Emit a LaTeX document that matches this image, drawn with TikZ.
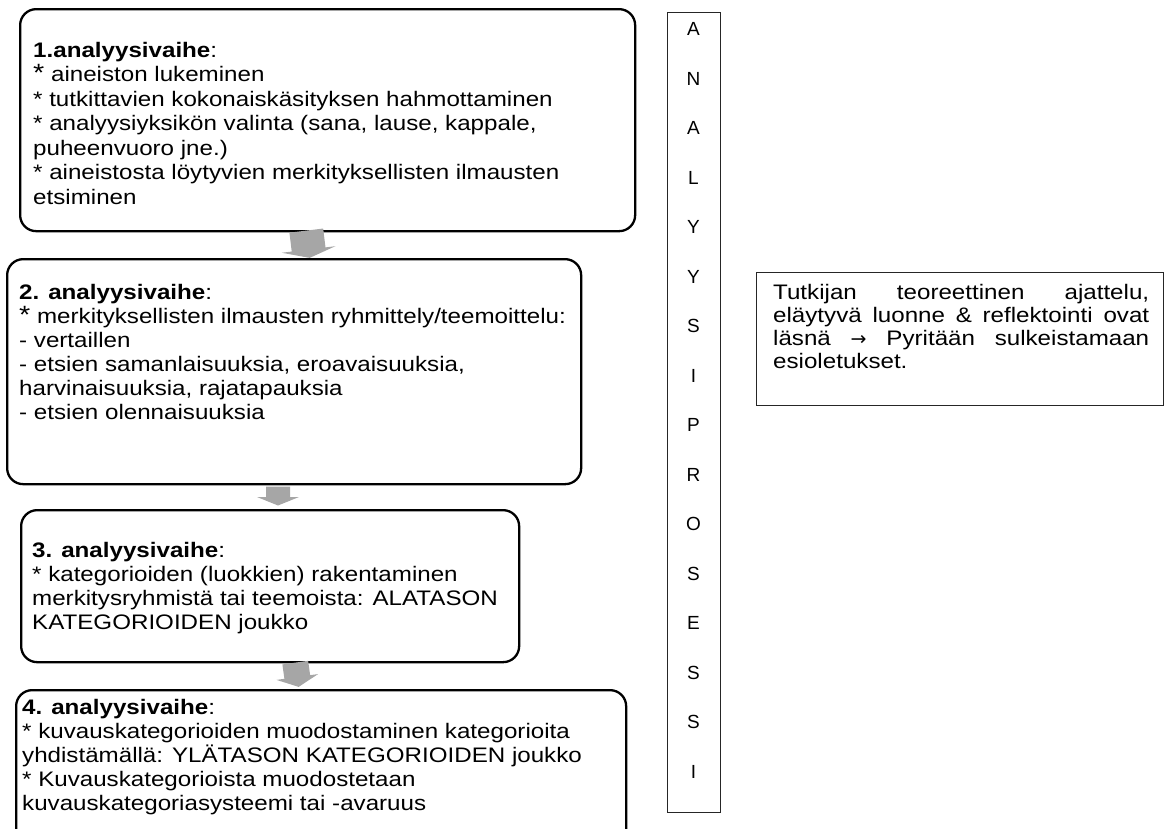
\documentclass[tikz,border=0pt]{standalone}
\usepackage{fontspec}
\setmainfont{Liberation Sans}[FakeStretch=1.15]
\newfontfamily\letterfont{Liberation Sans}
\newfontfamily\symfont{DejaVu Sans}
\definecolor{arrowgray}{HTML}{A6A6A6}
\definecolor{thinline}{HTML}{262626}
\begin{document}
\begin{tikzpicture}[x=1pt,y=-1pt,
  stage/.style={draw, line width=2.3pt, rounded corners=16pt, anchor=north west, inner sep=0pt},
  body/.style={anchor=base west, inner sep=0pt, align=left, font=\fontsize{21}{24}\selectfont},
  thinbox/.style={draw=thinline, line width=1pt, anchor=north west, inner sep=0pt},
  letter/.style={font=\letterfont\fontsize{19}{19}\selectfont, inner sep=0pt},
  garrow/.style={fill=arrowgray, draw=none}]
\useasboundingbox (0,0) rectangle (1165,828);
% stage boxes
\node[stage, minimum width=615pt, minimum height=222pt] (b1) at (19,8) {};
\node[stage, minimum width=574pt, minimum height=225pt] (b2) at (6,258) {};
\node[stage, minimum width=498pt, minimum height=152pt] (b3) at (20,509) {};
\node[stage, minimum width=610pt, minimum height=160pt] (b4) at (15,689) {};
% texts (anchored at the baseline of the last line)
\node[body, font=\fontsize{21}{24.5}\selectfont] (t1) at (33,204) {\textbf{1.analyysivaihe}:\\
{\fontsize{25}{24}\selectfont*} aineiston lukeminen\\
* tutkittavien kokonaiskäsityksen hahmottaminen\\
* analyysiyksikön valinta (sana, lause, kappale,\\
puheenvuoro jne.)\\
* aineistosta löytyvien merkityksellisten ilmausten\\
etsiminen};
\node[body] (t2) at (19,419) {\textbf{2. analyysivaihe}:\\
{\fontsize{25}{24}\selectfont*} merkityksellisten ilmausten ryhmittely/teemoittelu:\\
- vertaillen\\
- etsien samanlaisuuksia, eroavaisuuksia,\\
harvinaisuuksia, rajatapauksia\\
- etsien olennaisuuksia};
\node[body] (t3) at (32,629) {\textbf{3. analyysivaihe}:\\
* kategorioiden (luokkien) rakentaminen\\
merkitysryhmistä tai teemoista: ALATASON\\
KATEGORIOIDEN joukko};
\node[body] (t4) at (22,810) {\textbf{4. analyysivaihe}:\\
* kuvauskategorioiden muodostaminen kategorioita\\
yhdistämällä: YLÄTASON KATEGORIOIDEN joukko\\
* Kuvauskategorioista muodostetaan\\
kuvauskategoriasysteemi tai -avaruus};
% block arrows between the stages
\coordinate (a1) at (308,244.5);
\coordinate (a2) at (278,496);
\coordinate (a3) at (297,675);
\fill[garrow, shift={(a1)}, rotate=7]
  (-17,-14) -- (17,-14) -- (17,5) -- (27,5) -- (0,13.5) -- (-27,5) -- (-17,5) -- cycle;
\fill[garrow, shift={(a2)}]
  (-12,-9.5) -- (12,-9.5) -- (12,1) -- (21,1) -- (0,9.5) -- (-21,1) -- (-12,1) -- cycle;
\fill[garrow, shift={(a3)}, rotate=8]
  (-13,-12.5) -- (13,-12.5) -- (13,2) -- (21,2) -- (0,12) -- (-21,2) -- (-13,2) -- cycle;
% analysis process column
\node[thinbox, minimum width=53pt, minimum height=800pt] (ap) at (667,12) {};
\foreach \c [count=\i from 0] in {A,N,A,L,Y,Y,S,I,P,R,O,S,E,S,S,I}
  \node[letter] (l\i) at (693.5,{29+49.5*\i}) {\c};
% note box
\node[thinbox, minimum width=407pt, minimum height=133pt] (note) at (756,272) {};
\node[anchor=base west, inner sep=0pt, align=left, font=\fontsize{21}{23}\selectfont] (nt) at (773,368) {%
\makebox[376pt][s]{Tutkijan teoreettinen ajattelu,}\\
\makebox[376pt][s]{eläytyvä luonne \& reflektointi ovat}\\
\makebox[376pt][s]{läsnä {\symfont\fontsize{19}{23}\selectfont →} Pyritään sulkeistamaan}\\
esioletukset.};
\end{tikzpicture}
\end{document}
